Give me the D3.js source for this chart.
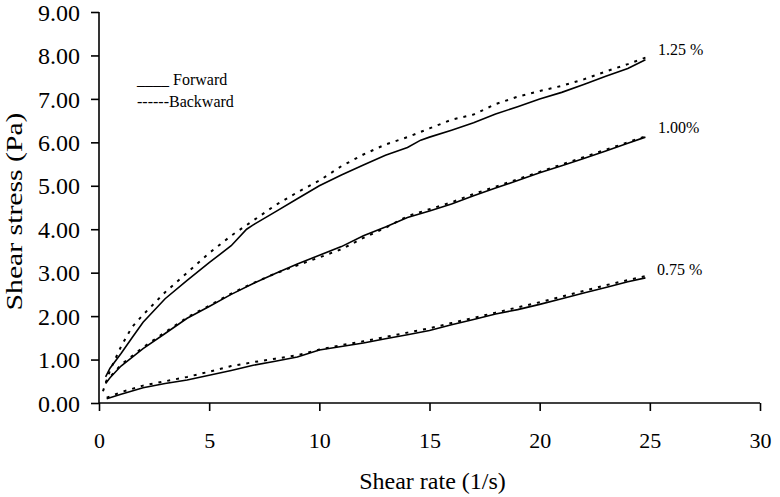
<!DOCTYPE html>
<html>
<head>
<meta charset="utf-8">
<script src="https://cdn.jsdelivr.net/npm/d3@7"></script>
<style>
  html, body { margin: 0; padding: 0; background: #fff; }
  svg { display: block; font-family: "Liberation Serif", "Times New Roman", serif; }
</style>
</head>
<body>
<svg id="chart" width="780" height="497"></svg>
<script>
// ---- data ----
const xTicks = [0, 5, 10, 15, 20, 25, 30];
const yTicks = [0, 1, 2, 3, 4, 5, 6, 7, 8, 9];
const xTitle = "Shear rate (1/s)";
const yTitle = "Shear stress (Pa)";
const legendLabels = ["____ Forward", "------Backward"];
const seriesLabels = ["1.25 %", "1.00%", "0.75 %"];

const fwd125 = [[0.3,0.6],[0.5,0.8],[1,1.14],[1.5,1.5],[2,1.86],[3,2.4],[4,2.82],[5,3.23],[6,3.62],[6.7,4.0],[7,4.1],[8,4.4],[9,4.7],[10,5.0],[11,5.25],[12,5.48],[13,5.7],[14,5.88],[14.6,6.05],[15,6.12],[16,6.28],[17,6.45],[18,6.65],[19,6.82],[20,7.0],[21,7.15],[22,7.33],[23,7.52],[24,7.7],[24.8,7.9]];
const bwd125 = [[0.18,0.27],[0.5,0.75],[1,1.3],[1.5,1.75],[2,2.03],[3,2.55],[4,3.0],[5,3.45],[6,3.85],[7,4.2],[8,4.55],[9,4.85],[10,5.12],[11,5.45],[12,5.72],[13,5.95],[14,6.12],[15,6.32],[16,6.52],[17,6.64],[18,6.88],[19,7.05],[20,7.18],[21,7.3],[22,7.45],[23,7.63],[24,7.8],[24.8,7.95]];
const fwd100 = [[0.3,0.45],[0.5,0.58],[1,0.85],[1.5,1.05],[2,1.25],[3,1.6],[4,1.95],[5,2.22],[6,2.5],[7,2.75],[8,2.98],[9,3.2],[10,3.4],[11,3.6],[12,3.85],[13,4.05],[14,4.27],[15,4.42],[16,4.58],[17,4.77],[18,4.95],[19,5.12],[20,5.3],[21,5.46],[22,5.63],[23,5.8],[24,5.98],[24.8,6.12]];
const bwd100 = [[0.3,0.47],[0.5,0.6],[1,0.88],[1.5,1.08],[2,1.28],[3,1.63],[4,1.97],[5,2.24],[6,2.52],[7,2.76],[8,2.98],[9,3.17],[10,3.35],[11,3.54],[12,3.8],[13,4.03],[14,4.3],[15,4.46],[16,4.62],[17,4.81],[18,4.98],[19,5.15],[20,5.32],[21,5.49],[22,5.66],[23,5.83],[24,6.0],[24.8,6.14]];
const fwd075 = [[0.35,0.1],[1,0.2],[2,0.35],[3,0.45],[4,0.53],[5,0.64],[6,0.75],[7,0.87],[8,0.96],[9,1.06],[10,1.22],[11,1.3],[12,1.38],[13,1.48],[14,1.57],[15,1.67],[16,1.8],[17,1.92],[18,2.05],[19,2.15],[20,2.27],[21,2.4],[22,2.53],[23,2.66],[24,2.79],[24.8,2.88]];
const bwd075 = [[0.35,0.12],[1,0.25],[2,0.4],[3,0.5],[4,0.6],[5,0.72],[6,0.85],[7,0.94],[8,1.02],[9,1.1],[10,1.23],[11,1.33],[12,1.42],[13,1.52],[14,1.62],[15,1.72],[16,1.84],[17,1.96],[18,2.08],[19,2.2],[20,2.32],[21,2.45],[22,2.58],[23,2.71],[24,2.83],[24.8,2.92]];

// ---- layout ----
const svg = d3.select("#chart");
const margin = {left: 99, right: 20, top: 12, bottom: 94};
const W = 780, H = 497;
const x = d3.scaleLinear().domain([0, 30]).range([margin.left, W - margin.right]);
const y = d3.scaleLinear().domain([0, 9]).range([H - margin.bottom, margin.top]);

// axes
const xAxis = svg.append("g").attr("transform", `translate(0,${y(0)})`)
  .call(d3.axisBottom(x).tickValues(xTicks).tickSize(8).tickPadding(0).tickFormat(d3.format("d")));
xAxis.select(".domain").attr("d", `M${x(0)},0H${x(30)}`);
xAxis.selectAll("text").attr("font-size", 22).attr("dy", null).attr("y", 45).attr("fill", "#000")
  .attr("font-family", "Liberation Serif, Times New Roman, serif");

const yAxis = svg.append("g").attr("transform", `translate(${x(0)},0)`)
  .call(d3.axisLeft(y).tickValues(yTicks).tickSize(8).tickPadding(11).tickFormat(d3.format(".2f")));
yAxis.select(".domain").attr("d", `M0,${y(9)}V${y(0)}`);
yAxis.selectAll("text").attr("font-size", 24).attr("dy", "0.34em").attr("fill", "#000")
  .attr("font-family", "Liberation Serif, Times New Roman, serif");

svg.selectAll(".domain, .tick line").attr("stroke", "#000").attr("stroke-width", 1.6);

// titles
svg.append("text").attr("x", (x(0) + x(30)) / 2 + 3).attr("y", 489)
  .attr("text-anchor", "middle").attr("font-size", 24).attr("fill", "#000").text(xTitle);
svg.append("text").attr("transform", `translate(22,${(y(0)+y(9))/2 + 4}) rotate(-90)`)
  .attr("text-anchor", "middle").attr("font-size", 23).attr("fill", "#000")
  .attr("textLength", 198).attr("lengthAdjust", "spacingAndGlyphs").text(yTitle);

// lines
const line = d3.line().x(d => x(d[0])).y(d => y(d[1]));
const series = [
  {data: fwd125, dash: null}, {data: bwd125, dash: "3,6"},
  {data: fwd100, dash: null}, {data: bwd100, dash: "3,6"},
  {data: fwd075, dash: null}, {data: bwd075, dash: "3,6"}
];
svg.append("g").selectAll("path").data(series).join("path")
  .attr("d", d => line(d.data))
  .attr("fill", "none").attr("stroke", "#000")
  .attr("stroke-width", d => d.dash ? 2 : 1.6)
  .attr("stroke-dasharray", d => d.dash);

// series labels
const labelPos = [[658, 55], [658, 133], [657, 275]];
svg.append("g").selectAll("text").data(seriesLabels).join("text")
  .attr("x", (d, i) => labelPos[i][0]).attr("y", (d, i) => labelPos[i][1])
  .attr("font-size", 16).attr("fill", "#000").text(d => d);

// legend (text-drawn, as in original)
svg.append("g").selectAll("text").data(legendLabels).join("text")
  .attr("x", 137).attr("y", (d, i) => 85 + i * 22)
  .attr("font-size", 16).attr("fill", "#000").attr("xml:space", "preserve")
  .style("white-space", "pre").text(d => d);
</script>
</body>
</html>
